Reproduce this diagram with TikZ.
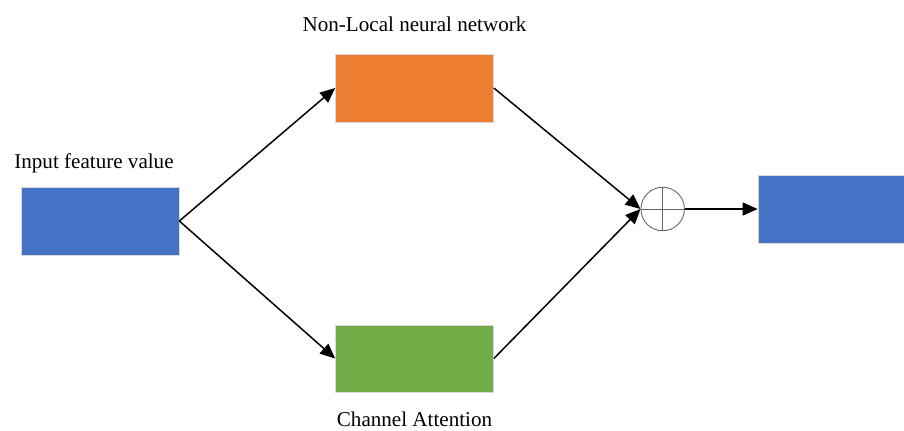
\documentclass[tikz,border=0pt]{standalone}
\usepackage{fontspec}
\setmainfont{Liberation Serif}
\usepackage{tikz}
\usetikzlibrary{arrows.meta, positioning}
\definecolor{boxblue}{HTML}{4472C4}
\definecolor{boxorange}{HTML}{ED7D31}
\definecolor{boxgreen}{HTML}{70AD47}

\begin{document}
\begin{tikzpicture}[
  x=0.2mm, y=-0.2mm,
  blk/.style={rectangle, draw=black!15, line width=0.4pt,
              minimum width=31.6mm, minimum height=13.6mm},
  sum/.style={circle, draw=black!60, line width=0.5pt,
              minimum size=8.7mm, inner sep=0pt},
  lbl/.style={inner sep=0pt, font=\fontsize{12}{14.4}\selectfont},
  arr/.style={line width=0.85pt,
              -{Triangle[length=3mm, width=2.6mm]}}
]
  \useasboundingbox (0,0) rectangle (904,430);

  \node[blk, fill=boxblue] (in) at (100,221) {};
  \node[blk, fill=boxorange] (nl) at (414.5,88) {};
  \node[blk, fill=boxgreen, minimum height=13.4mm] (ca) at (414.5,358.5) {};
  \node[sum] (add) at (662.7,209) {};
  \node[blk, fill=boxblue, minimum width=29.2mm] (out) at (831,209) {};

  % labels
  \node[lbl, above=3.6mm of in, anchor=base, xshift=-1.2mm] (inlbl) {Input feature value};
  \node[lbl, above=4.46mm of nl, anchor=base] (nllbl) {Non-Local neural network};
  \node[lbl, below=6.8mm of ca, anchor=base] (calbl) {Channel Attention};

  % plus sign
  \draw[black!60, line width=0.5pt] (add.north) -- (add.south)
                                    (add.west) -- (add.east);

  \draw[arr] (in.east) -- (nl.west);
  \draw[arr] (in.east) -- (ca.west);
  \draw[arr] (nl.east) -- (add.west);
  \draw[arr] (ca.east) -- (add.west);
  \draw[arr] (add.east) -- (out.west);
\end{tikzpicture}
\end{document}
